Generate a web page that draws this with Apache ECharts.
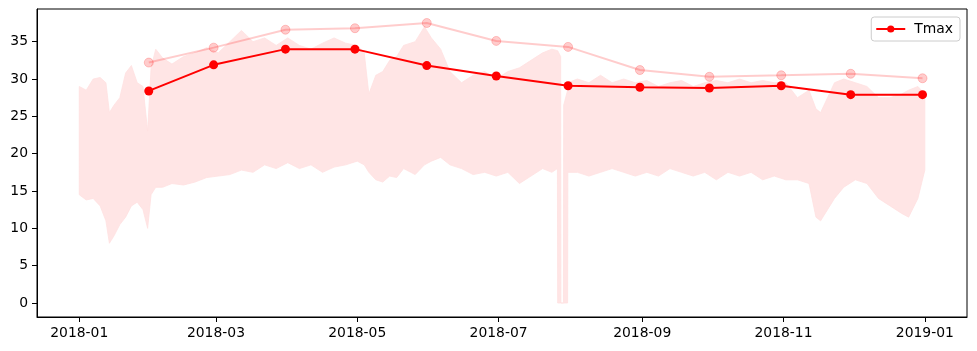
<!DOCTYPE html>
<html>
<head>
<meta charset="utf-8">
<script src="https://cdn.jsdelivr.net/npm/echarts@6/dist/echarts.min.js"></script>
<style>
html, body {margin:0; padding:0; background:#fff;}
#main {width:977px; height:351px;}
</style>
</head>
<body>
<div id="main"></div>
<script>
// monthly points (month ends)
let monthEnds = ['2018-01-31', '2018-02-28', '2018-03-31', '2018-04-30', '2018-05-31', '2018-06-30',
                 '2018-07-31', '2018-08-31', '2018-09-30', '2018-10-31', '2018-11-30', '2018-12-31'];
let tmaxMean = [28.4, 31.9, 34.0, 34.0, 31.8, 30.4, 29.1, 28.9, 28.8, 29.1, 27.9, 27.9];
let tmaxPeak = [32.2, 34.2, 36.6, 36.8, 37.5, 35.1, 34.3, 31.2, 30.3, 30.5, 30.7, 30.1];

// hourly record envelope (days after 2018-01-01)
let bandDays = [0, 3, 6, 9, 11.5, 13, 15, 17.5, 20, 22.5, 25, 27.5, 29.5, 31, 33, 36, 40, 45, 50, 55,
                60, 65, 70, 75, 80, 85, 90, 95, 100, 105, 110, 115, 120, 123, 125, 128, 131, 134, 137, 140,
                145, 149, 152, 156, 160, 165, 170, 175, 180, 185, 190, 195, 200, 204,
                206.4, 206.5, 207.8, 207.9, 209.0, 209.1, 210.8, 210.9,
                215, 220, 225, 230, 235, 240, 245, 250, 255, 260, 265, 270, 275, 280, 285, 290, 295, 300,
                305, 310, 315, 318, 320, 323, 326, 330, 335, 340, 345, 350, 355, 358, 362, 365];
let bandHigh = [29.0, 28.5, 30.0, 30.2, 29.5, 25.5, 26.5, 27.5, 30.8, 31.8, 29.5, 29.0, 23.0, 31.5, 34.0, 32.8, 32.0, 33.0, 33.5, 34.2,
                33.5, 35.0, 36.5, 35.0, 35.5, 34.5, 35.5, 34.5, 34.0, 34.8, 35.5, 34.8, 34.5, 33.5, 28.0, 30.5, 31.0, 32.5, 33.0, 34.5,
                35.0, 37.0, 35.5, 34.0, 31.0, 29.5, 30.5, 31.0, 30.0, 31.0, 31.5, 32.5, 33.5, 34.0,
                33.8, 33.8, 33.0, 0, 0, 26.5, 28.5, 29.5,
                30.0, 29.5, 30.5, 29.5, 30.0, 29.5, 29.8, 29.0, 29.5, 29.8, 29.0, 29.5, 29.8, 29.5, 30.0, 29.5, 29.8, 29.5,
                29.5, 27.5, 28.5, 26.0, 25.5, 27.5, 29.5, 30.0, 29.5, 29.0, 27.5, 27.5, 28.0, 28.5, 29.0, 28.0];
let bandLow = [14.5, 13.8, 14.0, 13.0, 11.0, 8.0, 9.0, 10.5, 11.5, 13.0, 13.5, 12.5, 10.0, 14.5, 15.5, 15.5, 16.0, 15.8, 16.2, 16.8,
               17.0, 17.2, 17.8, 17.5, 18.5, 18.0, 18.8, 18.0, 18.5, 17.5, 18.2, 18.5, 19.0, 18.5, 17.5, 16.5, 16.2, 17.0, 16.8, 18.0,
               17.2, 18.5, 19.0, 19.5, 18.5, 18.0, 17.2, 17.5, 17.0, 17.5, 16.0, 17.0, 18.0, 17.5,
               18.0, 0, 0, 0, 0, 0, 0, 17.5,
               17.5, 17.0, 17.5, 18.0, 17.5, 17.0, 17.5, 17.0, 18.0, 17.5, 17.0, 17.5, 16.5, 17.5, 17.0, 17.5, 16.5, 17.0,
               16.5, 16.5, 16.0, 11.5, 11.0, 12.5, 14.0, 15.5, 16.5, 16.0, 14.0, 13.0, 12.0, 11.5, 14.0, 17.8];

let xTicks = ['2018-01-01', '2018-03-01', '2018-05-01', '2018-07-01', '2018-09-01', '2018-11-01', '2019-01-01'];
let yTicks = [0, 5, 10, 15, 20, 25, 30, 35];

const DAY = 86400000;
function toTime(s) {
    let p = s.split('-');
    return Date.UTC(+p[0], +p[1] - 1, +p[2]);
}
const start = toTime('2018-01-01');
function dayTime(d) { return Math.round(start + d * DAY); }
function pad(n) { return n < 10 ? '0' + n : '' + n; }

let bandTimes = bandDays.map(dayTime);
let meanData = monthEnds.map((m, i) => [toTime(m), tmaxMean[i]]);
let peakData = monthEnds.map((m, i) => [toTime(m), tmaxPeak[i]]);
let tickTimes = xTicks.map(toTime);

// the whole envelope drawn as one polygon through the axis scales
function renderBand(params, api) {
    let pts = [];
    for (let i = 0; i < bandTimes.length; i++) pts.push(api.coord([bandTimes[i], bandHigh[i]]));
    for (let i = bandTimes.length - 1; i >= 0; i--) pts.push(api.coord([bandTimes[i], bandLow[i]]));
    return {
        type: 'polygon',
        shape: {points: pts},
        style: {fill: '#ffe5e5', stroke: '#ffe1e1', lineWidth: 0.8}
    };
}

let font = 'DejaVu Sans';
let myChart = echarts.init(document.getElementById('main'));
let option = {
    animation: false,
    textStyle: {fontFamily: font},
    grid: {left: 37, top: 9, width: 930, height: 308, show: true, borderColor: '#000', borderWidth: 1, backgroundColor: 'transparent'},
    legend: {
        data: ['Tmax'],
        right: 17, top: 17,
        padding: [5, 7, 5, 4],
        itemWidth: 29, itemHeight: 9,
        backgroundColor: 'rgba(255,255,255,0.8)',
        borderColor: '#cccccc', borderWidth: 1, borderRadius: 3,
        textStyle: {fontSize: 13.9, color: '#000', fontFamily: font, padding: [0, 0, 0, 4]}
    },
    xAxis: {
        type: 'value',
        min: dayTime(-18.25),
        max: dayTime(383.2),
        splitLine: {show: false},
        axisLine: {show: true, onZero: false, lineStyle: {color: '#000', width: 1}},
        axisTick: {show: true, length: 5, lineStyle: {color: '#000'}, customValues: tickTimes},
        axisLabel: {
            color: '#000', fontSize: 13.9, margin: 9, fontFamily: font,
            customValues: tickTimes,
            formatter: function (v) {
                let d = new Date(v);
                return d.getUTCFullYear() + '-' + pad(d.getUTCMonth() + 1);
            }
        }
    },
    yAxis: {
        type: 'value',
        min: -1.875,
        max: 39.375,
        splitLine: {show: false},
        axisLine: {show: true, onZero: false, lineStyle: {color: '#000', width: 1}},
        axisTick: {show: true, length: 5, lineStyle: {color: '#000'}, customValues: yTicks},
        axisLabel: {color: '#000', fontSize: 13.9, margin: 9, fontFamily: font, customValues: yTicks}
    },
    series: [
        {
            name: 'band', type: 'custom', silent: true,
            renderItem: renderBand,
            data: [[bandTimes[0], bandHigh[0]]],
            clip: true
        },
        {
            name: 'peak', type: 'line', data: peakData,
            symbol: 'circle', symbolSize: 9,
            lineStyle: {color: 'rgba(255,0,0,0.2)', width: 2},
            itemStyle: {color: 'rgba(255,0,0,0.2)', borderColor: 'rgba(255,0,0,0.2)', borderWidth: 1}
        },
        {
            name: 'Tmax', type: 'line', data: meanData,
            symbol: 'circle', symbolSize: 9,
            lineStyle: {color: '#ff0000', width: 2},
            itemStyle: {color: '#ff0000'}
        }
    ]
};
myChart.setOption(option);
</script>
</body>
</html>
